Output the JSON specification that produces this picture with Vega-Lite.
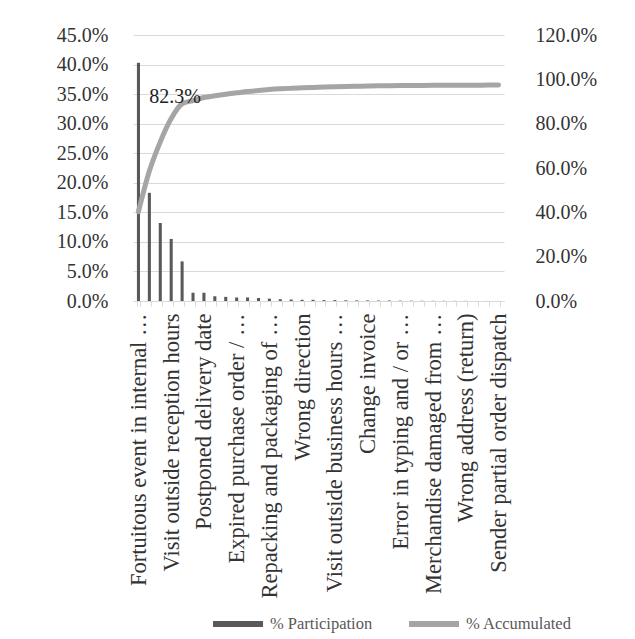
{
  "$schema": "https://vega.github.io/schema/vega-lite/v6.json",
  "autosize": "none",
  "width": 371,
  "height": 266,
  "padding": {"left": 133, "top": 35, "right": 131, "bottom": 338},
  "background": "white",
  "config": {
    "view": {"stroke": null},
    "font": "Liberation Serif",
    "axis": {"labelFont": "Liberation Serif", "labelFontSize": 20, "labelColor": "#333333"},
    "legend": {"labelFont": "Liberation Serif", "labelFontSize": 16.5, "labelColor": "#595959"}
  },
  "data": {
    "values": [
      {"cause": "Fortuitous event in internal …", "participation": 0.403, "accumulated": 0.403},
      {"cause": "Customer absent at delivery", "participation": 0.183, "accumulated": 0.586},
      {"cause": "Incomplete address", "participation": 0.132, "accumulated": 0.718},
      {"cause": "Visit outside reception hours", "participation": 0.105, "accumulated": 0.823, "label": "82.3%"},
      {"cause": "Establishment closed", "participation": 0.067, "accumulated": 0.890},
      {"cause": "Goods refused by customer", "participation": 0.014, "accumulated": 0.904},
      {"cause": "Postponed delivery date", "participation": 0.014, "accumulated": 0.918},
      {"cause": "Missing delivery documents", "participation": 0.008, "accumulated": 0.926},
      {"cause": "Restricted access area", "participation": 0.007, "accumulated": 0.933},
      {"cause": "Expired purchase order / …", "participation": 0.006, "accumulated": 0.939},
      {"cause": "Order cancelled by customer", "participation": 0.006, "accumulated": 0.945},
      {"cause": "Vehicle breakdown", "participation": 0.005, "accumulated": 0.950},
      {"cause": "Repacking and packaging of …", "participation": 0.004, "accumulated": 0.954},
      {"cause": "Incorrect quantity", "participation": 0.003, "accumulated": 0.957},
      {"cause": "Duplicate order", "participation": 0.0025, "accumulated": 0.9595},
      {"cause": "Wrong direction", "participation": 0.002, "accumulated": 0.9615},
      {"cause": "Payment not available", "participation": 0.002, "accumulated": 0.9635},
      {"cause": "Unauthorized receiver", "participation": 0.0015, "accumulated": 0.965},
      {"cause": "Visit outside business hours …", "participation": 0.0015, "accumulated": 0.9665},
      {"cause": "Holiday closure", "participation": 0.0012, "accumulated": 0.9677},
      {"cause": "Weather conditions", "participation": 0.001, "accumulated": 0.9687},
      {"cause": "Change invoice", "participation": 0.001, "accumulated": 0.9697},
      {"cause": "Wrong product", "participation": 0.0008, "accumulated": 0.9705},
      {"cause": "Lost merchandise", "participation": 0.0007, "accumulated": 0.9712},
      {"cause": "Error in typing and / or …", "participation": 0.0006, "accumulated": 0.9718},
      {"cause": "Customs retention", "participation": 0.0005, "accumulated": 0.9723},
      {"cause": "Schedule conflict", "participation": 0.0004, "accumulated": 0.9727},
      {"cause": "Merchandise damaged from …", "participation": 0.0003, "accumulated": 0.973},
      {"cause": "Security restriction", "participation": 0.0003, "accumulated": 0.9733},
      {"cause": "Inventory shortage", "participation": 0.0002, "accumulated": 0.9735},
      {"cause": "Wrong address (return)", "participation": 0.0002, "accumulated": 0.9737},
      {"cause": "Transport delay", "participation": 0.0001, "accumulated": 0.9738},
      {"cause": "Route change", "participation": 0.0001, "accumulated": 0.9739},
      {"cause": "Sender partial order dispatch", "participation": 0.0001, "accumulated": 0.974}
    ]
  },
  "encoding": {
    "x": {
      "field": "cause",
      "type": "nominal",
      "sort": null,
      "scale": {"paddingInner": 0.72, "paddingOuter": 0.36},
      "axis": {
        "title": null,
        "labelAngle": -90,
        "labelAlign": "right",
        "labelBaseline": "middle",
        "labelFontSize": 22.5,
        "labelLimit": 340,
        "labelPadding": 7,
        "labelOverlap": false,
        "labelExpr": "round(datum.index * 33) % 3 == 0 ? datum.label : ''",
        "tickBand": "extent",
        "tickSize": 5,
        "tickColor": "#D9D9D9",
        "domainColor": "#D9D9D9",
        "grid": false
      }
    }
  },
  "layer": [
    {
      "mark": {"type": "bar"},
      "encoding": {
        "y": {
          "field": "participation",
          "type": "quantitative",
          "scale": {"domain": [0, 0.45], "nice": false},
          "axis": {
            "title": null,
            "format": ".1%",
            "values": [0, 0.05, 0.1, 0.15, 0.2, 0.25, 0.3, 0.35, 0.4, 0.45],
            "grid": true,
            "gridColor": "#D9D9D9",
            "gridWidth": 1,
            "domain": false,
            "ticks": false,
            "labelPadding": 25
          }
        },
        "color": {
          "datum": "% Participation",
          "scale": {"domain": ["% Participation", "% Accumulated"], "range": ["#595959", "#A5A5A5"]},
          "legend": {
            "title": null,
            "orient": "none",
            "legendX": 77,
            "legendY": 561,
            "direction": "horizontal",
            "symbolType": "stroke",
            "symbolStrokeWidth": 6,
            "symbolSize": 2500,
            "columnPadding": 24,
            "labelOffset": 4
          }
        }
      }
    },
    {
      "layer": [
        {
          "mark": {"type": "line", "strokeWidth": 5, "strokeCap": "round", "interpolate": "monotone"},
          "encoding": {
            "y": {
              "field": "accumulated",
              "type": "quantitative",
              "scale": {"domain": [0, 1.2], "nice": false},
              "axis": {
                "title": null,
                "orient": "right",
                "format": ".1%",
                "values": [0, 0.2, 0.4, 0.6, 0.8, 1.0, 1.2],
                "grid": false,
                "domain": false,
                "ticks": false,
                "labelPadding": 31
              }
            },
            "color": {"datum": "% Accumulated"}
          }
        },
        {
          "transform": [{"filter": "datum.label != null"}],
          "mark": {"type": "text", "fontSize": 20, "font": "Liberation Serif", "color": "#222222", "align": "center", "baseline": "middle", "dx": 4, "dy": -22},
          "encoding": {
            "y": {"field": "accumulated", "type": "quantitative"},
            "text": {"field": "label"}
          }
        }
      ]
    }
  ],
  "resolve": {"scale": {"y": "independent"}}
}
